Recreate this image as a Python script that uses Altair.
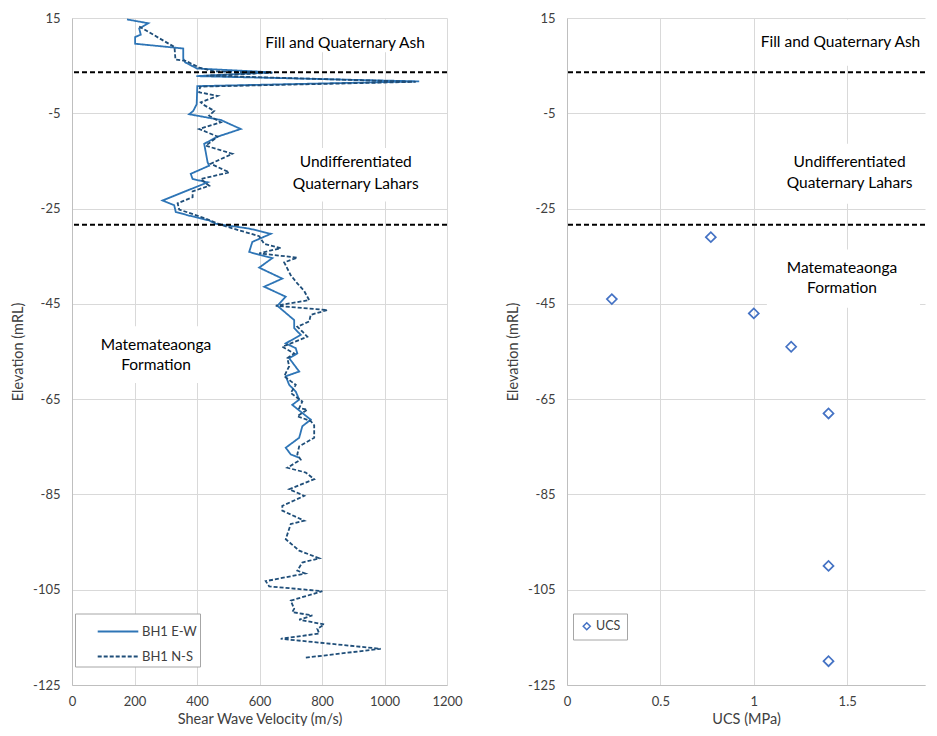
import altair as alt
import pandas as pd

# ---------------- data ----------------
series_names = ["BH1 E-W", "BH1 N-S"]

ew_elev = [14.7, 13.9, 12.8, 11.5, 11.0, 9.6, 8.6, 6.5, 5.7, 4.4, 3.6, 2.8, 1.7, 0.7,
           -3.1, -4.5, -5.2, -6.4, -8.3, -9.9, -11.4, -15.3, -16.0, -17.7, -18.8, -19.5,
           -21.6, -23.3, -24.3, -25.7, -26.4, -27.5, -28.2, -29.2, -30.3, -32.0, -34.1,
           -34.7, -35.4, -37.4, -39.7, -41.4, -43.5, -45.4, -48.4, -50.1, -51.5, -53.3,
           -54.3, -55.4, -56.4, -57.8, -59.2, -60.2, -62.0, -63.4, -65.1, -66.2, -67.9,
           -69.3, -70.7, -73.1, -75.2, -76.6, -77.3]
ew_vel = [176, 244, 215, 220, 202, 202, 356, 356, 362, 400, 641, 398, 1111, 401,
          399, 388, 375, 476, 540, 466, 423, 434, 439, 380, 386, 434,
          354, 290, 327, 332, 370, 439, 460, 567, 636, 577, 567,
          599, 641, 599, 673, 615, 684, 657, 711, 711, 732, 684,
          716, 721, 695, 711, 727, 684, 695, 716, 727, 705, 737,
          764, 737, 727, 684, 700, 727]

ns_elev = [13.2, 12.6, 8.9, 6.3, 6.0, 4.6, 3.8, 3.5, 2.9, 1.6, 0.6, -0.6, -1.35, -2.7,
           -3.1, -4.5, -5.5, -6.9, -8.3, -9.9, -11.8, -13.5, -15.6, -17.4, -18.8, -20.2,
           -21.4, -22.6, -23.9, -25.2, -27.1, -28.5, -30.8, -32.4, -33.3, -34.4, -35.3,
           -36.3, -39.0, -40.7, -42.3, -44.2, -45.4, -46.3, -47.3, -48.7, -49.8, -50.8,
           -51.9, -54.0, -55.4, -56.4, -58.1, -60.2, -62.0, -63.7, -65.5, -66.9, -67.2,
           -68.6, -69.6, -70.5, -73.1, -74.9, -76.6, -77.7, -79.4, -80.4, -81.8, -83.9,
           -85.3, -87.4, -88.4, -90.5, -91.2, -94.4, -96.8, -98.4, -99.3, -101.0, -101.6,
           -103.2, -104.3, -105.3, -107.3, -109.0, -109.7, -110.4, -111.3, -112.3, -113.2,
           -114.2, -115.3, -117.4, -119.3]
ns_vel = [215, 231, 328, 331, 364, 407, 455, 641, 430, 1100, 410, 407, 466, 412,
          418, 455, 439, 476, 407, 466, 428, 513, 444, 503, 412, 439,
          386, 386, 338, 343, 428, 480, 599, 615, 668, 599, 721,
          679, 700, 721, 743, 759, 652, 817, 764, 759, 721, 737,
          753, 673, 711, 689, 695, 679, 716, 700, 737, 727, 753,
          721, 764, 775, 775, 727, 721, 732, 689, 748, 775, 695,
          743, 673, 673, 743, 700, 684, 727, 791, 737, 721, 746,
          620, 631, 801, 700, 711, 705, 769, 727, 807, 785,
          791, 668, 988, 743]

ucs_name = "UCS"
ucs_mpa = [0.77, 0.24, 1.0, 1.2, 1.4, 2.0, 1.4, 1.4]
ucs_elev = [-31, -44, -47, -54, -68, -75, -100, -120]

boundary_elev = [3.6, -28.4]

elev_ticks = [15, -5, -25, -45, -65, -85, -105, -125]
vel_ticks = [0, 200, 400, 600, 800, 1000, 1200]
ucs_ticks = [0, 0.5, 1, 1.5]

unit_labels = ["Fill and Quaternary Ash", "Undifferentiated", "Quaternary Lahars",
               "Matemateaonga", "Formation"]
left_label_x = [874, 908, 908, 269, 269]
left_label_y = [9.8, -15.2, -19.8, -53.7, -57.8]
left_box_x = [605, 680, 55]
left_box_x2 = [1165, 1140, 480]
left_box_y = [14.7, -12.3, -49.7]
left_box_y2 = [7.8, -23.5, -61.6]

right_label_x = [1.464, 1.513, 1.513, 1.472, 1.472]
right_label_y = [9.94, -15.3, -19.7, -37.4, -41.6]
right_box_x = [1.01, 1.10, 1.07]
right_box_x2 = [1.96, 1.93, 1.89]
right_box_y = [14.7, -11.4, -33.6]
right_box_y2 = [5.0, -24.0, -45.8]

# ---------------- frames ----------------
lines_df = pd.concat([
    pd.DataFrame({"series": series_names[0], "elev": ew_elev, "vel": ew_vel,
                  "idx": range(len(ew_elev))}),
    pd.DataFrame({"series": series_names[1], "elev": ns_elev, "vel": ns_vel,
                  "idx": range(len(ns_elev))}),
])
ucs_df = pd.DataFrame({"series": ucs_name, "ucs": ucs_mpa, "elev": ucs_elev})
bound_df = pd.DataFrame({"elev": boundary_elev})
left_text_df = pd.DataFrame({"label": unit_labels, "x": left_label_x, "y": left_label_y})
right_text_df = pd.DataFrame({"label": unit_labels, "x": right_label_x, "y": right_label_y})
left_box_df = pd.DataFrame({"x": left_box_x, "x2": left_box_x2, "y": left_box_y, "y2": left_box_y2})
right_box_df = pd.DataFrame({"x": right_box_x, "x2": right_box_x2, "y": right_box_y, "y2": right_box_y2})

FONT = "Lato"
W_L, W_R, H = 375, 358, 667
LABEL_EXPR = "toString(datum.value)"

y_scale = alt.Scale(domain=[-125, 15], nice=False, zero=False)
y_axis = alt.Axis(values=elev_ticks, title="Elevation (mRL)", titlePadding=7,
                  labelExpr=LABEL_EXPR)

# ---------------- left panel ----------------
lx_scale = alt.Scale(domain=[0, 1200], nice=False)
lx_axis = alt.Axis(values=vel_ticks, title="Shear Wave Velocity (m/s)",
                   labelExpr=LABEL_EXPR, labelFlush=False)

left_boxes = alt.Chart(left_box_df).mark_rect(fill="white").encode(
    x=alt.X("x:Q", scale=lx_scale, axis=lx_axis), x2="x2:Q",
    y=alt.Y("y:Q", scale=y_scale, axis=y_axis), y2="y2:Q")

legend_l = alt.Legend(orient="none", legendX=3, legendY=595.5, title=None,
                      symbolType="M-1.45,0H1.45", symbolSize=784, symbolStrokeWidth=2,
                      labelFont=FONT, labelFontSize=13, labelColor="#404040",
                      strokeColor="#A6A6A6", fillColor="white", padding=3,
                      symbolOffset=25, rowPadding=3, labelOffset=9)

lines = alt.Chart(lines_df).mark_line(strokeWidth=1.8).encode(
    x=alt.X("vel:Q", scale=lx_scale, axis=lx_axis),
    y=alt.Y("elev:Q", scale=y_scale, axis=y_axis),
    order="idx:Q",
    color=alt.Color("series:N", scale=alt.Scale(domain=series_names,
                                                range=["#2E75B6", "#1F4E79"]),
                    legend=legend_l),
    strokeDash=alt.StrokeDash("series:N", scale=alt.Scale(domain=series_names,
                                                          range=[[1, 0], [4, 2]]),
                              legend=legend_l),
)


def bounds():
    return alt.Chart(bound_df).mark_rule(color="black", strokeWidth=2,
                                         strokeDash=[5, 3]).encode(
        y=alt.Y("elev:Q", scale=y_scale))


left_text = alt.Chart(left_text_df).mark_text(font=FONT, fontSize=15.5, color="black",
                                              align="center", baseline="middle").encode(
    x=alt.X("x:Q", scale=lx_scale), y=alt.Y("y:Q", scale=y_scale), text="label:N")

left = alt.layer(left_boxes, lines, bounds(), left_text).properties(
    width=W_L, height=H)

# ---------------- right panel ----------------
rx_scale = alt.Scale(domain=[0, W_R / 186.8], nice=False)
rx_axis = alt.Axis(values=ucs_ticks, title="UCS (MPa)", labelExpr=LABEL_EXPR,
                   labelFlush=False)

right_boxes = alt.Chart(right_box_df).mark_rect(fill="white", clip=True).encode(
    x=alt.X("x:Q", scale=rx_scale, axis=rx_axis), x2="x2:Q",
    y=alt.Y("y:Q", scale=y_scale, axis=y_axis), y2="y2:Q")

legend_r = alt.Legend(orient="none", legendX=6, legendY=595.5, title=None,
                      symbolType="diamond", symbolSize=50, symbolStrokeWidth=1.5,
                      symbolFillColor="white",
                      labelFont=FONT, labelFontSize=12.5, labelColor="#404040",
                      strokeColor="#A6A6A6", fillColor="white", padding=6.5,
                      symbolOffset=1, labelOffset=3)

points = alt.Chart(ucs_df).mark_point(shape="diamond", filled=False, size=100,
                                      strokeWidth=1.7, opacity=1, clip=True).encode(
    x=alt.X("ucs:Q", scale=rx_scale, axis=rx_axis),
    y=alt.Y("elev:Q", scale=y_scale, axis=y_axis),
    color=alt.Color("series:N", scale=alt.Scale(domain=[ucs_name], range=["#4472C4"]),
                    legend=legend_r),
)

right_text = alt.Chart(right_text_df).mark_text(font=FONT, fontSize=15.5, color="black",
                                                align="center", baseline="middle").encode(
    x=alt.X("x:Q", scale=rx_scale), y=alt.Y("y:Q", scale=y_scale), text="label:N")

right = alt.layer(right_boxes, points, bounds(), right_text).properties(
    width=W_R, height=H)

chart = alt.hconcat(left, right, spacing=42).resolve_scale(
    x="independent", color="independent", strokeDash="independent"
).resolve_legend(color="independent", strokeDash="independent").properties(
    padding={"left": 2, "top": 3, "right": 0, "bottom": 0}
).configure_view(stroke="transparent").configure_axis(
    labelFont=FONT, titleFont=FONT, labelFontSize=13, titleFontSize=14.5,
    labelColor="#404040", titleColor="#404040", titleFontWeight="normal",
    domainColor="#BFBFBF", gridColor="#D9D9D9", ticks=False, labelPadding=12,
    domainWidth=1, gridWidth=1
).configure_axisX(labelPadding=10, titlePadding=4)

chart.save("out.html", embed_options={"renderer": "svg", "actions": False})
